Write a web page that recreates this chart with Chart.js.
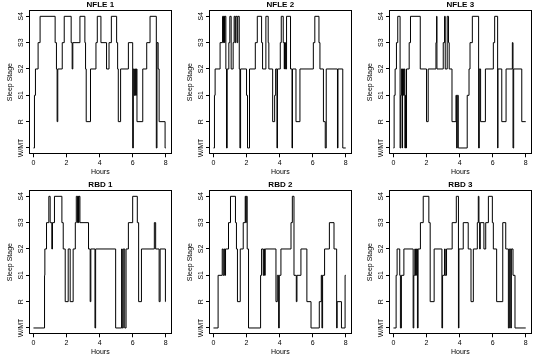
<!DOCTYPE html>
<html>
<head>
<meta charset="utf-8">
<script src="https://cdn.jsdelivr.net/npm/chart.js@4.4.1/dist/chart.umd.min.js"></script>
<style>
  body { margin: 0; background: #fff; }
  #grid { display: grid; grid-template-columns: repeat(3, 180px); grid-template-rows: repeat(2, 180px); width: 540px; height: 360px; }
  canvas { display: block; }
</style>
</head>
<body>
<div id="grid">
  <canvas id="c0" width="180" height="180"></canvas>
  <canvas id="c1" width="180" height="180"></canvas>
  <canvas id="c2" width="180" height="180"></canvas>
  <canvas id="c3" width="180" height="180"></canvas>
  <canvas id="c4" width="180" height="180"></canvas>
  <canvas id="c5" width="180" height="180"></canvas>
</div>
<script>
// stage 0 = W/MT, 1 = R, 2 = S1, 3 = S2, 4 = S3, 5 = S4
const stageLabels = ['W/MT', 'R', 'S1', 'S2', 'S3', 'S4'];
const hourTicks = [0, 2, 4, 6, 8];
const panelTitles = ['NFLE 1', 'NFLE 2', 'NFLE 3', 'RBD 1', 'RBD 2', 'RBD 3'];

// each pair: time (hours) where a stage starts, and that stage
const nfle1Hours = [0, 0.06, 0.12, 0.28, 0.40, 1.31, 1.39, 1.43, 1.47, 1.74, 1.86, 2.28, 2.34, 2.38, 2.81, 3.11, 3.15, 3.19, 3.45, 3.78, 3.86, 4.08, 4.42, 4.57, 4.71, 5.03, 5.09, 5.13, 5.27, 5.74, 6.00, 6.04, 6.10, 6.14, 6.18, 6.22, 6.26, 6.61, 6.85, 7.05, 7.43, 7.47, 7.54, 7.60, 7.96, 8.00];
const nfle1Stage = [0, 2, 3, 4, 5, 4, 3, 1, 3, 4, 5, 4, 3, 4, 5, 4, 3, 1, 3, 4, 5, 4, 3, 4, 5, 4, 3, 1, 3, 4, 0, 3, 2, 3, 2, 3, 1, 3, 4, 5, 0, 4, 3, 1, 0, 0];

const nfle2Hours = [0, 0.06, 0.10, 0.40, 0.55, 0.61, 0.63, 0.67, 0.69, 0.75, 0.79, 0.83, 0.93, 0.99, 1.07, 1.19, 1.25, 1.31, 1.35, 1.43, 1.47, 1.56, 1.60, 1.64, 2.00, 2.06, 2.18, 2.53, 2.65, 2.91, 2.97, 3.17, 3.31, 3.35, 3.58, 3.70, 3.76, 3.84, 3.87, 4.04, 4.10, 4.22, 4.28, 4.30, 4.36, 4.42, 4.66, 4.75, 4.78, 4.99, 5.23, 6.04, 6.13, 6.38, 6.44, 6.65, 6.76, 6.82, 7.50, 7.53, 7.82, 8.00];
const nfle2Stage = [0, 2, 3, 4, 5, 4, 5, 4, 5, 3, 0, 3, 4, 5, 3, 4, 5, 4, 5, 4, 5, 3, 0, 3, 2, 0, 3, 4, 5, 4, 3, 5, 4, 3, 1, 2, 3, 0, 3, 4, 5, 4, 3, 4, 3, 5, 3, 0, 3, 1, 3, 4, 5, 4, 3, 1, 0, 3, 0, 3, 0, 0];

const nfle3Hours = [0, 0.04, 0.10, 0.18, 0.26, 0.40, 0.44, 0.48, 0.53, 0.55, 0.61, 0.65, 0.69, 0.73, 0.77, 0.79, 0.95, 1.03, 1.62, 2.00, 2.10, 2.57, 2.61, 2.63, 3.01, 3.09, 3.13, 3.25, 3.33, 3.37, 3.54, 3.78, 3.82, 3.86, 3.92, 4.46, 4.57, 4.63, 4.77, 5.15, 5.19, 5.27, 5.56, 6.04, 6.12, 6.30, 6.32, 6.55, 6.81, 7.19, 7.23, 7.27, 7.76, 8.00];
const nfle3Stage = [0, 2, 3, 4, 5, 0, 2, 3, 0, 3, 2, 3, 0, 2, 0, 3, 4, 5, 3, 1, 3, 4, 5, 3, 4, 5, 3, 5, 4, 3, 1, 2, 0, 2, 0, 2, 3, 4, 5, 0, 3, 1, 3, 4, 5, 0, 3, 1, 3, 4, 0, 3, 1, 1];

const rbd1Hours = [0, 0.67, 0.69, 0.79, 0.93, 1.01, 1.11, 1.15, 1.27, 1.72, 1.80, 1.92, 2.10, 2.22, 2.40, 2.53, 2.59, 2.67, 2.69, 2.73, 2.75, 2.81, 3.33, 3.43, 3.47, 3.72, 3.76, 4.97, 5.33, 5.37, 5.43, 5.52, 5.60, 5.74, 6.00, 6.28, 6.36, 6.53, 7.31, 7.39, 7.60, 7.66, 7.98, 8.00];
const rbd1Stage = [0, 2, 3, 4, 5, 4, 3, 4, 5, 4, 3, 1, 3, 1, 3, 4, 5, 4, 5, 4, 5, 4, 3, 1, 3, 0, 3, 0, 3, 0, 3, 0, 3, 4, 5, 4, 1, 3, 4, 3, 1, 3, 1, 1];

const rbd2Hours = [0, 0.28, 0.53, 0.59, 0.65, 0.69, 0.73, 0.91, 1.03, 1.33, 1.39, 1.45, 1.62, 1.80, 1.92, 1.96, 1.98, 2.04, 2.12, 2.85, 2.91, 3.01, 3.05, 3.09, 3.13, 3.78, 3.86, 3.94, 3.98, 4.08, 4.69, 4.77, 4.87, 5.01, 5.05, 5.29, 5.65, 5.90, 6.40, 6.52, 6.56, 6.60, 6.72, 7.01, 7.29, 7.45, 7.48, 7.74, 7.96, 8.00];
const rbd2Stage = [0, 2, 3, 2, 3, 2, 3, 4, 5, 4, 3, 1, 3, 4, 5, 4, 5, 3, 0, 2, 3, 2, 3, 2, 3, 1, 2, 0, 2, 3, 4, 5, 2, 1, 2, 3, 1, 0, 1, 2, 0, 2, 3, 4, 3, 0, 1, 0, 2, 2];

const rbd3Hours = [0, 0.16, 0.22, 0.38, 0.42, 0.48, 0.63, 1.19, 1.23, 1.29, 1.33, 1.39, 1.45, 1.49, 1.63, 1.80, 2.14, 2.22, 2.46, 2.93, 2.97, 3.09, 3.13, 3.21, 3.55, 3.80, 3.93, 3.96, 4.22, 4.52, 4.69, 4.83, 5.07, 5.13, 5.17, 5.21, 5.25, 5.47, 5.58, 5.74, 5.98, 6.04, 6.24, 6.61, 6.79, 6.95, 7.01, 7.09, 7.13, 7.23, 7.35, 8.00];
const rbd3Stage = [0, 2, 3, 2, 0, 2, 3, 0, 2, 3, 2, 3, 0, 3, 4, 5, 4, 1, 3, 0, 2, 3, 2, 3, 4, 5, 0, 3, 4, 3, 1, 3, 4, 5, 4, 3, 4, 3, 4, 5, 4, 3, 1, 4, 3, 0, 3, 0, 3, 2, 0, 0];

const panelHours = [nfle1Hours, nfle2Hours, nfle3Hours, rbd1Hours, rbd2Hours, rbd3Hours];
const panelStages = [nfle1Stage, nfle2Stage, nfle3Stage, rbd1Stage, rbd2Stage, rbd3Stage];

const FONT = '"Liberation Sans", Arial, Helvetica, sans-serif';

// box around the plot + rotated stage names on the left, like R's base graphics
const boxAndStages = {
  id: 'boxAndStages',
  afterDraw(chart) {
    const { ctx, chartArea: a, scales } = chart;
    ctx.save();
    ctx.strokeStyle = '#000';
    ctx.lineWidth = 1;
    ctx.strokeRect(Math.round(a.left) + 0.5, Math.round(a.top) + 0.5,
      Math.round(a.right - a.left) - 1, Math.round(a.bottom - a.top) - 1);
    ctx.fillStyle = '#000';
    ctx.font = '7px ' + FONT;
    ctx.textAlign = 'center';
    ctx.textBaseline = 'middle';
    stageLabels.forEach((lab, i) => {
      const y = scales.y.getPixelForValue(i);
      ctx.save();
      ctx.translate(a.left - 8.3, y);
      ctx.rotate(-Math.PI / 2);
      ctx.fillText(lab, 0, 0);
      ctx.restore();
    });
    ctx.restore();
  }
};

for (let p = 0; p < 6; p++) {
  const hours = panelHours[p];
  const stages = panelStages[p];
  new Chart(document.getElementById('c' + p), {
    type: 'line',
    data: {
      datasets: [{
        data: hours.map((h, i) => ({ x: h, y: stages[i] })),
        borderColor: '#000',
        borderWidth: 1,
        pointRadius: 0,
        fill: false,
        stepped: true
      }]
    },
    options: {
      responsive: false,
      devicePixelRatio: 1,
      animation: false,
      layout: { padding: { left: 0, right: 8.3, top: 0, bottom: 0 } },
      plugins: {
        legend: { display: false },
        tooltip: { enabled: false },
        title: {
          display: true,
          fullSize: false,
          text: panelTitles[p],
          color: '#000',
          font: { family: FONT, size: 8, weight: 'bold' },
          padding: { top: 0.4, bottom: 0 }
        }
      },
      scales: {
        x: {
          type: 'linear',
          min: -0.27,
          max: 8.36,
          afterBuildTicks: s => { s.ticks = hourTicks.map(v => ({ value: v })); },
          afterFit: s => { s.height = 25.7; },
          grid: { drawOnChartArea: false, drawTicks: true, tickLength: 3, color: '#000' },
          border: { display: false },
          ticks: { color: '#000', font: { family: FONT, size: 7 }, padding: 2, maxRotation: 0 },
          title: { display: true, text: 'Hours', color: '#000', font: { family: FONT, size: 7 }, padding: { top: 0, bottom: 3.3 } }
        },
        y: {
          type: 'linear',
          min: -0.24,
          max: 5.24,
          afterBuildTicks: s => { s.ticks = stageLabels.map((l, i) => ({ value: i })); },
          afterFit: s => { s.width = 29; },
          grid: { drawOnChartArea: false, drawTicks: true, tickLength: 3, color: '#000' },
          border: { display: false },
          ticks: { display: false },
          title: { display: true, text: 'Sleep Stage', color: '#000', font: { family: FONT, size: 7 }, padding: { top: 5.8, bottom: 0 } }
        }
      }
    },
    plugins: [boxAndStages]
  });
}
</script>
</body>
</html>
